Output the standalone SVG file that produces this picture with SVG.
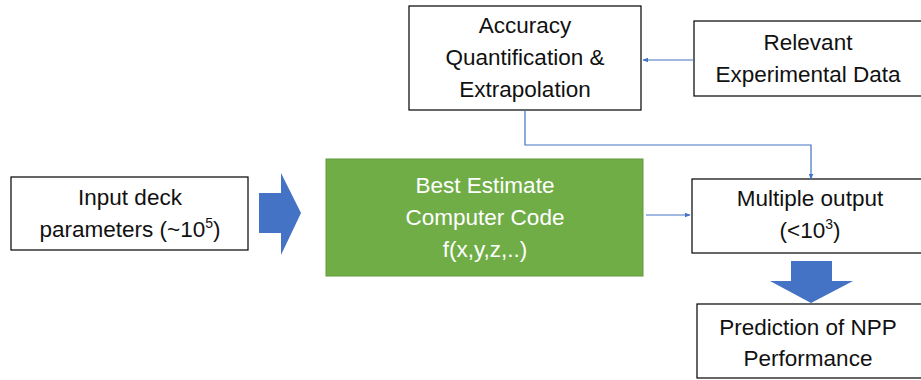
<svg xmlns="http://www.w3.org/2000/svg" width="921" height="380" viewBox="0 0 921 380">
<defs>
<style>
.box{fill:#fff;stroke:#000;stroke-width:1.2}
.t{font-family:"Liberation Sans",Arial,sans-serif;font-size:22.5px;fill:#111;text-anchor:middle}
.w{fill:#fff}
.con{fill:none;stroke:#4472C4;stroke-width:1.2}
.blk{fill:#4472C4}
</style>
<marker id="ah" viewBox="0 0 10 10" refX="9" refY="5" markerWidth="5" markerHeight="5" orient="auto-start-reverse">
<path d="M0,1 L10,5 L0,9 z" fill="#4472C4"/>
</marker>
</defs>
<rect width="921" height="380" fill="#fff"/>
<g id="accuracy">
<rect class="box" x="409" y="6" width="232" height="104"/>
<text class="t" x="525" y="33">Accuracy</text>
<text class="t" x="525" y="65">Quantification &amp;</text>
<text class="t" x="525" y="97">Extrapolation</text>
</g>
<g id="relevant">
<rect class="box" x="694" y="21" width="240" height="75"/>
<text class="t" x="808" y="50">Relevant</text>
<text class="t" x="808" y="82">Experimental Data</text>
</g>
<g id="input">
<rect class="box" x="11" y="177" width="237" height="73"/>
<text class="t" x="130" y="205">Input deck</text>
<text class="t" x="130" y="237">parameters (~10<tspan font-size="14" dy="-9">5</tspan><tspan dy="9">)</tspan></text>
</g>
<g id="code">
<rect x="326" y="159" width="317" height="117" fill="#70AD47" stroke="#5E9A3A" stroke-width="1"/>
<text class="t w" x="485" y="193">Best Estimate</text>
<text class="t w" x="485" y="225">Computer Code</text>
<text class="t w" x="485" y="257">f(x,y,z,..)</text>
</g>
<g id="output">
<rect class="box" x="692" y="179" width="240" height="74"/>
<text class="t" x="810" y="206">Multiple output</text>
<text class="t" x="810" y="238">(&lt;10<tspan font-size="14" dy="-9">3</tspan><tspan dy="9">)</tspan></text>
</g>
<g id="prediction">
<rect class="box" x="697" y="304" width="230" height="74"/>
<text class="t" x="808" y="335">Prediction of NPP</text>
<text class="t" x="808" y="366">Performance</text>
</g>
<g id="connectors">
<path class="con" d="M694,60 H643" marker-end="url(#ah)"/>
<path class="con" d="M525,110 V145 H811 V179" marker-end="url(#ah)"/>
<path class="con" d="M646,215 H690" marker-end="url(#ah)"/>
<polygon class="blk" points="259,193 281,193 281,173 301,213 281,255 281,233 259,233"/>
<polygon class="blk" points="791,261 832,261 832,281 853,281 811,303 770,281 791,281"/>
</g>
</svg>
